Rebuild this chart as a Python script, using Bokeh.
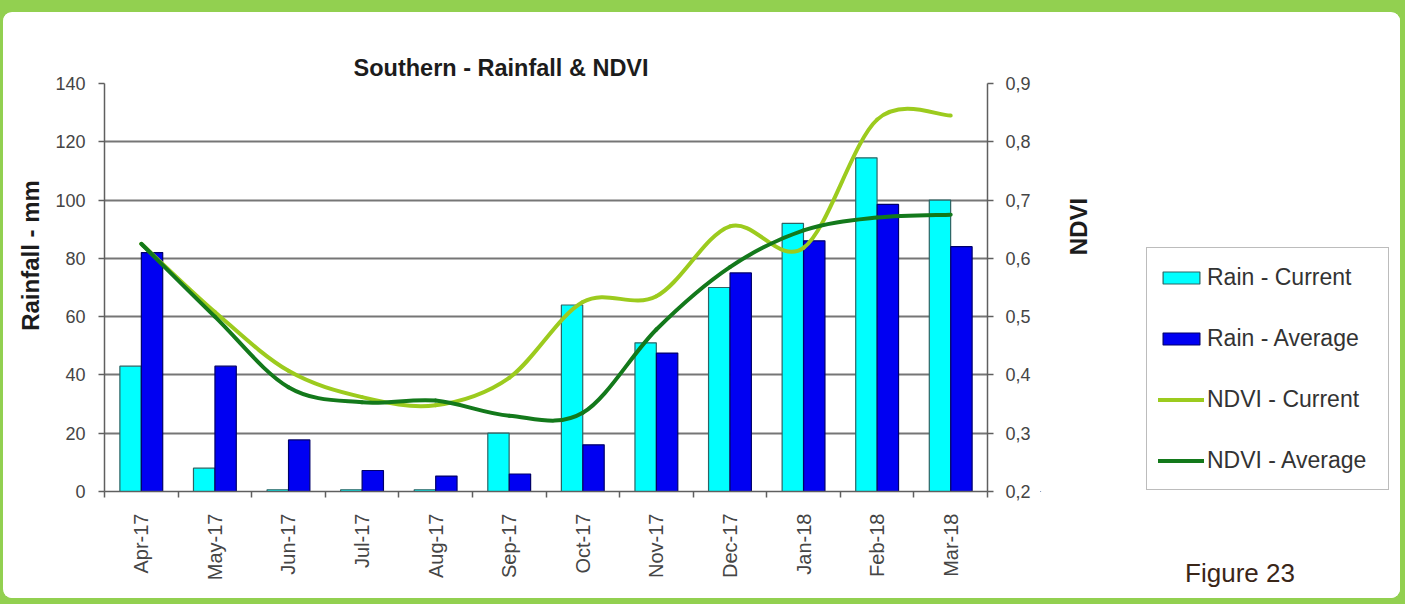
import math

from bokeh.embed import file_html
from bokeh.layouts import column, row
from bokeh.models import (CustomJSTickFormatter, FixedTicker, Label, Legend,
                          LegendItem, LinearAxis, Range1d)
from bokeh.plotting import figure
from bokeh.resources import INLINE

# ---- data -------------------------------------------------------------
months = ["Apr-17", "May-17", "Jun-17", "Jul-17", "Aug-17", "Sep-17",
          "Oct-17", "Nov-17", "Dec-17", "Jan-18", "Feb-18", "Mar-18"]
rain_current = [43, 8, 0.6, 0.6, 0.6, 20, 64, 51, 70, 92, 114.5, 100]
rain_average = [82, 43, 17.7, 7.2, 5.3, 6, 16, 47.5, 75, 86, 98.5, 84]
ndvi_current = [0.625, 0.508, 0.407, 0.362, 0.348, 0.395,
                0.525, 0.535, 0.655, 0.618, 0.838, 0.845]
ndvi_average = [0.625, 0.500, 0.379, 0.353, 0.356, 0.330,
                0.335, 0.478, 0.585, 0.648, 0.670, 0.675]
rain_ticks = [0, 20, 40, 60, 80, 100, 120, 140]
ndvi_ticks = [0.2, 0.3, 0.4, 0.5, 0.6, 0.7, 0.8, 0.9]

# ---- style ------------------------------------------------------------
FONT = "Liberation Sans"
CYAN, BLUE = "#00FFFF", "#0000F2"
LIGHT_GREEN, DARK_GREEN = "#9CCB1E", "#13791B"
AXIS_GREY, GRID_GREY, TICK_TEXT = "#5f5f5f", "#767676", "#454545"
TEXT_DARK = "#1c1c1c"
FRAME_GREEN = "#92D050"
HEIGHT = 586
BORDER_TOP, BORDER_BOTTOM = 71, 107
FRAME_H = HEIGHT - BORDER_TOP - BORDER_BOTTOM

n = len(months)
centers = [i + 0.5 for i in range(n)]


def smooth_segments(xs, ys):
    """Cubic Bezier segments (Catmull-Rom style) through every point."""
    seg = {k: [] for k in ("x0", "y0", "x1", "y1", "cx0", "cy0", "cx1", "cy1")}
    last = len(xs) - 1
    for k in range(last):
        a = max(k - 1, 0)
        d = min(k + 2, last)
        seg["x0"].append(xs[k]); seg["y0"].append(ys[k])
        seg["x1"].append(xs[k + 1]); seg["y1"].append(ys[k + 1])
        seg["cx0"].append(xs[k] + (xs[k + 1] - xs[a]) / 6)
        seg["cy0"].append(ys[k] + (ys[k + 1] - ys[a]) / 6)
        seg["cx1"].append(xs[k + 1] - (xs[d] - xs[k]) / 6)
        seg["cy1"].append(ys[k + 1] - (ys[d] - ys[k]) / 6)
    return seg


def strip(width):
    """A blank side panel; its data units are pixels, y measured up from
    the bottom of the chart frame."""
    s = figure(width=width, height=HEIGHT, output_backend="svg",
               toolbar_location=None, x_range=Range1d(0, width),
               y_range=Range1d(0, FRAME_H), x_axis_type=None, y_axis_type=None,
               min_border_left=0, min_border_right=0,
               min_border_top=BORDER_TOP, min_border_bottom=BORDER_BOTTOM,
               background_fill_color="white", border_fill_color="white",
               outline_line_color=None)
    return s


# ---- main chart --------------------------------------------------------
p = figure(width=990, height=HEIGHT, output_backend="svg", toolbar_location=None,
           x_range=Range1d(0, n), y_range=Range1d(0, 140),
           min_border_left=54, min_border_right=53,
           min_border_top=BORDER_TOP, min_border_bottom=BORDER_BOTTOM,
           background_fill_color="white", border_fill_color="white",
           outline_line_color=None)
p.extra_y_ranges = {"ndvi": Range1d(0.2, 0.9)}

p.title.text = "Southern - Rainfall & NDVI"
p.title.align = "left"
p.title.offset = 249
p.title.standoff = 6
p.title.text_font = FONT
p.title.text_font_size = "23.5px"
p.title.text_font_style = "bold"
p.title.text_color = TEXT_DARK

p.xgrid.visible = False
p.ygrid.ticker = FixedTicker(ticks=rain_ticks[1:-1])
p.ygrid.grid_line_color = GRID_GREY
p.ygrid.grid_line_width = 2

ly = p.yaxis[0]
ly.ticker = FixedTicker(ticks=rain_ticks)
ly.major_tick_in = 0
ly.major_tick_out = 6
ly.major_label_standoff = 13

bx = p.xaxis[0]
bx.ticker = FixedTicker(ticks=centers, minor_ticks=list(range(n + 1)))
bx.formatter = CustomJSTickFormatter(args=dict(labels=months),
                                     code="return labels[Math.floor(tick)]")
bx.major_tick_in = 0
bx.major_tick_out = 0
bx.minor_tick_in = 0
bx.minor_tick_out = 6
bx.major_label_orientation = math.pi / 2
bx.major_label_standoff = 16

ry = LinearAxis(y_range_name="ndvi", ticker=FixedTicker(ticks=ndvi_ticks),
                formatter=CustomJSTickFormatter(
                    code="return tick.toFixed(1).replace('.', ',')"))
ry.major_tick_in = 0
ry.major_tick_out = 6
ry.major_label_standoff = 12
p.add_layout(ry, "right")

for ax in (ly, bx, ry):
    ax.axis_line_color = AXIS_GREY
    ax.axis_line_width = 1.5
    ax.major_tick_line_color = None if ax is bx else AXIS_GREY
    ax.major_tick_line_width = 1.5
    ax.minor_tick_line_color = AXIS_GREY if ax is bx else None
    ax.minor_tick_line_width = 1.5
    ax.major_label_text_font = FONT
    ax.major_label_text_color = TICK_TEXT
    ax.major_label_text_font_size = "20px" if ax is bx else "18px"

bar_w = 0.29
cur_style = dict(fill_color=CYAN, line_color="#2c6464", line_width=1.2)
avg_style = dict(fill_color=BLUE, line_color="#00006a", line_width=1.2)
p.vbar(x=[c - 0.146 for c in centers], top=rain_current, bottom=0,
       width=bar_w, **cur_style)
p.vbar(x=[c + 0.146 for c in centers], top=rain_average, bottom=0,
       width=bar_w, **avg_style)

bez_cols = dict(x0="x0", y0="y0", x1="x1", y1="y1",
                cx0="cx0", cy0="cy0", cx1="cx1", cy1="cy1")
ncur_style = dict(line_color=LIGHT_GREEN, line_width=4, line_cap="round")
navg_style = dict(line_color=DARK_GREEN, line_width=4, line_cap="round")
p.bezier(source=smooth_segments(centers, ndvi_current), y_range_name="ndvi",
         **bez_cols, **ncur_style)
p.bezier(source=smooth_segments(centers, ndvi_average), y_range_name="ndvi",
         **bez_cols, **navg_style)

# ---- left strip: rainfall axis name ------------------------------------
left = strip(47)
left.add_layout(Label(x=27, y=236, text="Rainfall - mm", angle=math.pi / 2,
                      text_font=FONT, text_font_style="bold", text_font_size="24px",
                      text_color=TEXT_DARK, text_align="center",
                      text_baseline="middle"))

# ---- right strip: NDVI axis name, legend, figure number -----------------
side = strip(360)
side.add_layout(Label(x=38, y=265, text="NDVI", angle=math.pi / 2,
                      text_font=FONT, text_font_style="bold", text_font_size="24px",
                      text_color=TEXT_DARK, text_align="center",
                      text_baseline="middle"))

# figure number sits under the frame, carried by a label-only axis
fig_no = LinearAxis(ticker=FixedTicker(ticks=[199.5]),
                    formatter=CustomJSTickFormatter(code="return 'Figure 23'"))
fig_no.axis_line_color = None
fig_no.major_tick_line_color = None
fig_no.minor_tick_line_color = None
fig_no.major_tick_in = 0
fig_no.major_tick_out = 0
fig_no.major_label_standoff = 66
fig_no.major_label_text_font = FONT
fig_no.major_label_text_font_size = "26px"
fig_no.major_label_text_color = "#3a2618"
side.add_layout(fig_no, "below")

# legend keys: single marks far outside the view that carry each series' style
key_bez = dict(x0=[-900], y0=[-900], x1=[-890], y1=[-900],
               cx0=[-897], cy0=[-900], cx1=[-893], cy1=[-900])
k_cur = side.vbar(x=[-900], top=[-890], bottom=-900, width=5, **cur_style)
k_avg = side.vbar(x=[-900], top=[-890], bottom=-900, width=5, **avg_style)
k_ncur = side.bezier(source=dict(key_bez), **bez_cols, **ncur_style)
k_navg = side.bezier(source=dict(key_bez), **bez_cols, **navg_style)

legend = Legend(items=[
    LegendItem(label="Rain - Current", renderers=[k_cur]),
    LegendItem(label="Rain - Average", renderers=[k_avg]),
    LegendItem(label="NDVI - Current", renderers=[k_ncur]),
    LegendItem(label="NDVI - Average", renderers=[k_navg]),
], location=(106, 1))
legend.label_text_font = FONT
legend.label_text_font_size = "23px"
legend.label_text_color = "#333333"
legend.label_height = 36
legend.label_width = 170
legend.label_standoff = 3
legend.glyph_height = 15
legend.glyph_width = 46
legend.spacing = 25
legend.padding = 11
legend.border_line_color = "#7a7a7a"
legend.border_line_width = 1.5
legend.background_fill_color = "white"
legend.background_fill_alpha = 1.0
side.add_layout(legend, "center")

chart = row(left, p, side, styles={"background-color": "white",
                                   "border-radius": "9px",
                                   "overflow": "hidden"})
page = column(chart, styles={"background-color": FRAME_GREEN,
                             "padding": "12px 5px 6px 3px"})

open("out.html", "w").write(file_html(page, INLINE))
